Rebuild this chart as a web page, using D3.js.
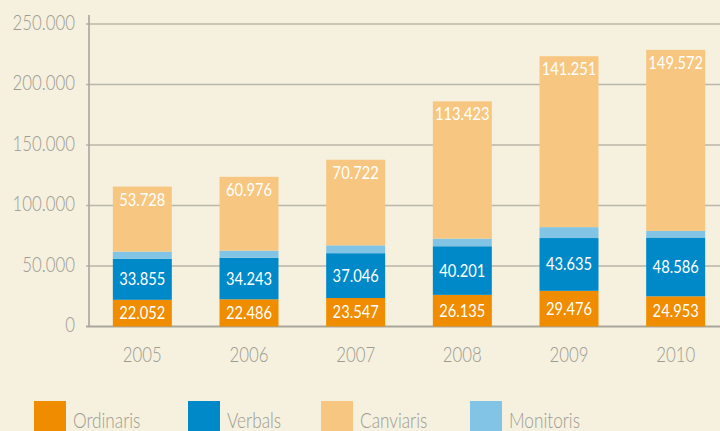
<!DOCTYPE html>
<html>
<head>
<meta charset="utf-8">
<script src="https://cdn.jsdelivr.net/npm/d3@7"></script>
<style>
  html, body { margin: 0; padding: 0; background: #f5f1de; }
  svg { display: block; font-family: Lato, "Liberation Sans", sans-serif; }
</style>
</head>
<body>
<div id="chart"></div>
<script>
////////// Dades
var anys = ["2005", "2006", "2007", "2008", "2009", "2010"];
var ordinaris = [22052, 22486, 23547, 26135, 29476, 24953];
var verbals = [33855, 34243, 37046, 40201, 43635, 48586];
var monitoris = [6000, 6000, 6500, 6300, 9000, 5500];   // sense etiqueta, llegit del gràfic
var canviaris = [53728, 60976, 70722, 113423, 141251, 149572];
var yTicks = [0, 50000, 100000, 150000, 200000, 250000];

var series = [
  { nom: "Ordinaris", valors: ordinaris, color: "#ef8c00", etiqueta: "mig" },
  { nom: "Verbals", valors: verbals, color: "#0089c9", etiqueta: "mig" },
  { nom: "Monitoris", valors: monitoris, color: "#82c4e5", etiqueta: null },
  { nom: "Canviaris", valors: canviaris, color: "#f7c781", etiqueta: "dalt" }
];
var llegenda = ["Ordinaris", "Verbals", "Canviaris", "Monitoris"];

var w = 720, h = 431;
var gris = "#9d9b93";
var svg = d3.select("#chart").append("svg").attr("width", w).attr("height", h);

var x = d3.scaleBand().domain(anys).range([89, 729]).paddingInner(0.447).paddingOuter(0.2235);
var y = d3.scaleLinear().domain([0, 250000]).range([326.5, 24]);

var fmt = function(v) { return d3.format(",")(v).replace(/,/g, "."); };

// estreny el text (la tipografia original és condensada)
function estreny(sel, f) {
  sel.each(function() {
    var l = this.getComputedTextLength();
    d3.select(this).attr("textLength", l * f).attr("lengthAdjust", "spacingAndGlyphs");
  });
}

// graella
svg.append("g").selectAll("line").data(yTicks).enter().append("line")
  .attr("x1", 86).attr("x2", w)
  .attr("y1", function(d) { return y(d); }).attr("y2", function(d) { return y(d); })
  .attr("stroke", function(d) { return d === 0 ? "#a9a69b" : "#b9b6aa"; })
  .attr("stroke-width", function(d) { return d === 0 ? 2 : 1.4; });

// eix Y
svg.append("line").attr("x1", 89).attr("x2", 89).attr("y1", 15).attr("y2", y(0))
  .attr("stroke", "#a9a69b").attr("stroke-width", 1.6);

svg.append("g").selectAll("text").data(yTicks).enter().append("text")
  .attr("x", 75).attr("y", function(d) { return y(d) - 2; })
  .attr("dy", "0.36em").attr("text-anchor", "end")
  .attr("font-size", 21).attr("font-weight", 300).attr("fill", gris)
  .text(function(d) { return fmt(d); })
  .call(estreny, 0.8);

// eix X
svg.append("g").selectAll("text").data(anys).enter().append("text")
  .attr("x", function(d) { return x(d) + x.bandwidth() / 2; })
  .attr("y", 362).attr("text-anchor", "middle")
  .attr("font-size", 21).attr("font-weight", 300).attr("fill", gris)
  .text(function(d) { return d; })
  .call(estreny, 0.8);

// barres apilades
var base = anys.map(function() { return 0; });
series.forEach(function(s) {
  var segs = anys.map(function(a, i) {
    var seg = { any: a, y0: base[i], y1: base[i] + s.valors[i], v: s.valors[i] };
    base[i] = seg.y1;
    return seg;
  });
  svg.append("g").selectAll("rect").data(segs).enter().append("rect")
    .attr("x", function(d) { return x(d.any); })
    .attr("width", x.bandwidth())
    .attr("y", function(d) { return y(d.y1); })
    .attr("height", function(d) { return y(d.y0) - y(d.y1); })
    .attr("fill", s.color);
  if (s.etiqueta) {
    svg.append("g").selectAll("text").data(segs).enter().append("text")
      .attr("x", function(d) { return x(d.any) + x.bandwidth() / 2; })
      .attr("y", function(d) {
        if (s.etiqueta === "dalt") return y(d.y1) + 19;
        return (y(d.y0) + y(d.y1)) / 2 + 6;
      })
      .attr("text-anchor", "middle")
      .attr("font-size", 17.5).attr("fill", "#ffffff")
      .text(function(d) { return fmt(d.v); })
      .call(estreny, 0.84);
  }
});

// llegenda
var posLl = [34, 188, 321, 470];
var colorDe = {};
series.forEach(function(s) { colorDe[s.nom] = s.color; });
var ll = svg.append("g").selectAll("g").data(llegenda).enter().append("g")
  .attr("transform", function(d, i) { return "translate(" + posLl[i] + ",401)"; });
ll.append("rect").attr("width", 32).attr("height", 32).attr("fill", function(d) { return colorDe[d]; });
ll.append("text").attr("x", 39).attr("y", 27).attr("font-size", 21).attr("font-weight", 300).attr("fill", gris)
  .text(function(d) { return d; })
  .call(estreny, 0.82);
</script>
</body>
</html>
